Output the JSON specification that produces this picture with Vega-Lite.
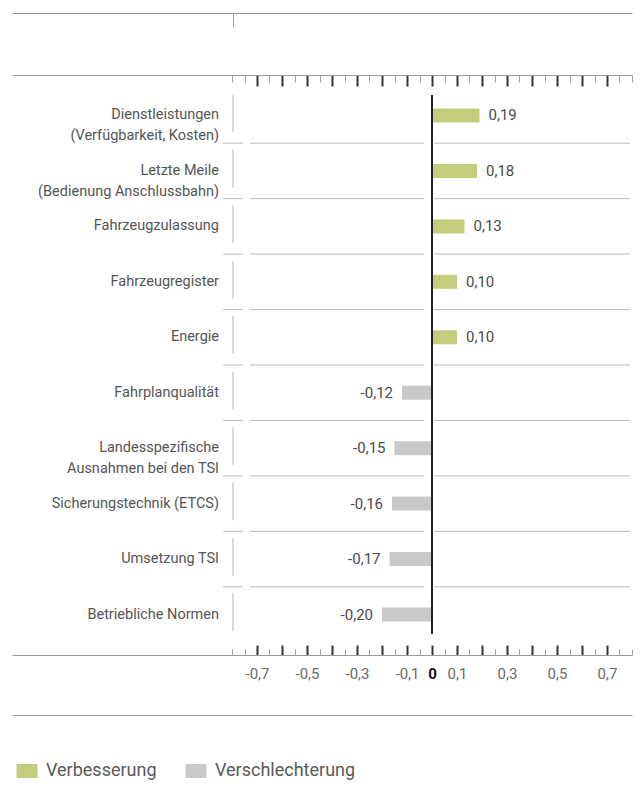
{
  "$schema": "https://vega.github.io/schema/vega-lite/v6.json",
  "autosize": "none",
  "width": 620,
  "height": 580,
  "padding": {"left": 12, "top": 75, "right": 10, "bottom": 147},
  "background": "#ffffff",
  "data": {
    "values": [
      {"k": "Dienstleistungen", "label": "Dienstleistungen\n(Verfügbarkeit, Kosten)", "v": 0.19, "Entwicklung": "Verbesserung"},
      {"k": "Letzte Meile", "label": "Letzte Meile\n(Bedienung Anschlussbahn)", "v": 0.18, "Entwicklung": "Verbesserung"},
      {"k": "Fahrzeugzulassung", "label": "Fahrzeugzulassung", "v": 0.13, "Entwicklung": "Verbesserung"},
      {"k": "Fahrzeugregister", "label": "Fahrzeugregister", "v": 0.10, "Entwicklung": "Verbesserung"},
      {"k": "Energie", "label": "Energie", "v": 0.10, "Entwicklung": "Verbesserung"},
      {"k": "Fahrplanqualität", "label": "Fahrplanqualität", "v": -0.12, "Entwicklung": "Verschlechterung"},
      {"k": "Landesspezifische Ausnahmen", "label": "Landesspezifische\nAusnahmen bei den TSI", "v": -0.15, "Entwicklung": "Verschlechterung"},
      {"k": "Sicherungstechnik", "label": "Sicherungstechnik (ETCS)", "v": -0.16, "Entwicklung": "Verschlechterung"},
      {"k": "Umsetzung TSI", "label": "Umsetzung TSI", "v": -0.17, "Entwicklung": "Verschlechterung"},
      {"k": "Betriebliche Normen", "label": "Betriebliche Normen", "v": -0.20, "Entwicklung": "Verschlechterung"}
    ]
  },
  "resolve": {"axis": {"x": "independent"}},
  "layer": [
    {
      "mark": {"type": "bar", "size": 14},
      "encoding": {
        "y": {"field": "k", "type": "nominal", "sort": null, "scale": {"type": "band", "paddingInner": 0, "paddingOuter": 0.23}, "axis": null},
        "x": {"field": "v", "type": "quantitative", "scale": {"domain": [-1.68, 0.8], "nice": false, "zero": false},
          "axis": {"orient": "bottom", "values": [-0.7, -0.5, -0.3, -0.1, 0, 0.1, 0.3, 0.5, 0.7], "format": ".1f",
            "labelExpr": "datum.value == 0 ? '0' : datum.label", "ticks": false, "domain": false, "labelPadding": 11,
            "labelFont": "Roboto", "labelFontSize": 15, "labelOverlap": false, "labelFlush": false,
            "labelColor": {"condition": {"test": "datum.value == 0", "value": "#111111"}, "value": "#6a6a6a"},
            "labelFontWeight": {"condition": {"test": "datum.value == 0", "value": "bold"}, "value": "normal"}}},
        "x2": {"datum": 0},
        "color": {"field": "Entwicklung", "type": "nominal",
          "scale": {"domain": ["Verbesserung", "Verschlechterung"], "range": ["#c4cd7c", "#c8c9cb"]},
          "legend": {"orient": "none", "legendX": 6, "legendY": 687, "direction": "horizontal", "title": null,
            "symbolType": "M-1.5,-1H1.5V1H-1.5Z", "symbolSize": 196, "symbolStrokeWidth": 0, "symbolOpacity": 1,
            "labelFont": "Roboto", "labelFontSize": 18, "labelColor": "#5a5a5a", "labelOffset": 10, "columnPadding": 28}}
      }
    },
    {
      "transform": [{"filter": "datum.v >= 0"}],
      "mark": {"type": "text", "align": "left", "baseline": "middle", "dx": 9, "font": "Roboto", "fontSize": 15, "color": "#4a4a4a"},
      "encoding": {
        "y": {"field": "k", "type": "nominal", "sort": null, "scale": {"type": "band", "paddingInner": 0, "paddingOuter": 0.23}, "axis": null},
        "x": {"field": "v", "type": "quantitative", "scale": {"domain": [-1.68, 0.8], "nice": false, "zero": false},
          "axis": {"orient": "bottom", "values": [-0.7, -0.6, -0.5, -0.4, -0.3, -0.2, -0.1, 0, 0.1, 0.2, 0.3, 0.4, 0.5, 0.6, 0.7],
            "labels": false, "domain": true, "domainColor": "#9a9a9a", "domainWidth": 1, "tickSize": -10, "tickColor": "#333333", "tickWidth": 2}},
        "text": {"field": "v", "type": "quantitative", "format": ".2f"}
      }
    },
    {
      "transform": [{"filter": "datum.v < 0"}],
      "mark": {"type": "text", "align": "right", "baseline": "middle", "dx": -9, "font": "Roboto", "fontSize": 15, "color": "#4a4a4a"},
      "encoding": {
        "y": {"field": "k", "type": "nominal", "sort": null, "scale": {"type": "band", "paddingInner": 0, "paddingOuter": 0.23}, "axis": null},
        "x": {"field": "v", "type": "quantitative", "scale": {"domain": [-1.68, 0.8], "nice": false, "zero": false},
          "axis": {"orient": "bottom", "values": [-0.8, -0.75, -0.65, -0.55, -0.45, -0.35, -0.25, -0.15, -0.05, 0.05, 0.15, 0.25, 0.35, 0.45, 0.55, 0.65, 0.75, 0.8],
            "labels": false, "domain": false, "tickSize": -6, "tickColor": "#a0a0a0", "tickWidth": 1}},
        "text": {"field": "v", "type": "quantitative", "format": ".2f"}
      }
    },
    {
      "mark": {"type": "text", "align": "right", "baseline": "middle", "font": "Roboto", "fontSize": 14.5, "color": "#555555", "lineBreak": "\n", "lineHeight": 21},
      "encoding": {
        "y": {"field": "k", "type": "nominal", "sort": null, "scale": {"type": "band", "paddingInner": 0, "paddingOuter": 0.23}, "axis": null},
        "x": {"datum": -0.852, "type": "quantitative", "scale": {"domain": [-1.68, 0.8], "nice": false, "zero": false},
          "axis": {"orient": "bottom", "offset": 60, "labels": false, "ticks": false, "domain": true, "domainColor": "#9a9a9a", "domainWidth": 1}},
        "text": {"field": "label"}
      }
    },
    {
      "mark": {"type": "rule", "color": "#222222", "strokeWidth": 2},
      "encoding": {
        "x": {"datum": 0, "type": "quantitative", "scale": {"domain": [-1.68, 0.8], "nice": false, "zero": false},
          "axis": {"orient": "top", "values": [-0.7, -0.6, -0.5, -0.4, -0.3, -0.2, -0.1, 0, 0.1, 0.2, 0.3, 0.4, 0.5, 0.6, 0.7],
            "labels": false, "domain": true, "domainColor": "#9a9a9a", "domainWidth": 1, "tickSize": -11, "tickColor": "#333333", "tickWidth": 2}},
        "y": {"datum": "Dienstleistungen", "type": "nominal", "bandPosition": 0.13, "scale": {"type": "band", "paddingInner": 0, "paddingOuter": 0.23}, "axis": null},
        "y2": {"datum": "Betriebliche Normen", "bandPosition": 0.84}
      }
    },
    {
      "mark": {"type": "rule", "color": "#b5b5b5", "strokeWidth": 1},
      "encoding": {
        "x": {"datum": -0.796, "type": "quantitative", "scale": {"domain": [-1.68, 0.8], "nice": false, "zero": false},
          "axis": {"orient": "top", "values": [-0.8, -0.75, -0.65, -0.55, -0.45, -0.35, -0.25, -0.15, -0.05, 0.05, 0.15, 0.25, 0.35, 0.45, 0.55, 0.65, 0.75, 0.8],
            "labels": false, "domain": false, "tickSize": -7, "tickColor": "#a0a0a0", "tickWidth": 1}},
        "y": {"field": "k", "type": "nominal", "sort": null, "bandPosition": 0.12, "scale": {"type": "band", "paddingInner": 0, "paddingOuter": 0.23}, "axis": null},
        "y2": {"field": "k", "bandPosition": 0.8}
      }
    },
    {
      "transform": [{"filter": "datum.k != 'Dienstleistungen'"}],
      "mark": {"type": "rule", "color": "#bdbdbd", "strokeWidth": 1},
      "encoding": {
        "x": {"datum": -0.836, "type": "quantitative", "scale": {"domain": [-1.68, 0.8], "nice": false, "zero": false},
          "axis": {"orient": "top", "offset": 62, "values": [-0.796], "labels": false, "domain": true, "domainColor": "#9a9a9a", "domainWidth": 1, "tickSize": -14, "tickColor": "#9a9a9a", "tickWidth": 1}},
        "x2": {"datum": -0.756},
        "y": {"field": "k", "type": "nominal", "sort": null, "bandPosition": 0, "scale": {"type": "band", "paddingInner": 0, "paddingOuter": 0.23}, "axis": null}
      }
    },
    {
      "transform": [{"filter": "datum.k != 'Dienstleistungen'"}],
      "mark": {"type": "rule", "color": "#bdbdbd", "strokeWidth": 1},
      "encoding": {
        "x": {"datum": -0.728, "type": "quantitative", "scale": {"domain": [-1.68, 0.8], "nice": false, "zero": false}, "axis": null},
        "x2": {"datum": -0.032},
        "y": {"field": "k", "type": "nominal", "sort": null, "bandPosition": 0, "scale": {"type": "band", "paddingInner": 0, "paddingOuter": 0.23}, "axis": null}
      }
    },
    {
      "transform": [{"filter": "datum.k != 'Dienstleistungen'"}],
      "mark": {"type": "rule", "color": "#bdbdbd", "strokeWidth": 1},
      "encoding": {
        "x": {"datum": 0.008, "type": "quantitative", "scale": {"domain": [-1.68, 0.8], "nice": false, "zero": false}, "axis": null},
        "x2": {"datum": 0.792},
        "y": {"field": "k", "type": "nominal", "sort": null, "bandPosition": 0, "scale": {"type": "band", "paddingInner": 0, "paddingOuter": 0.23}, "axis": null}
      }
    }
  ],
  "config": {
    "view": {"stroke": null},
    "axis": {"title": null, "grid": false},
    "locale": {"number": {"decimal": ",", "thousands": ".", "grouping": [3], "currency": ["", " €"], "minus": "-"}}
  }
}
